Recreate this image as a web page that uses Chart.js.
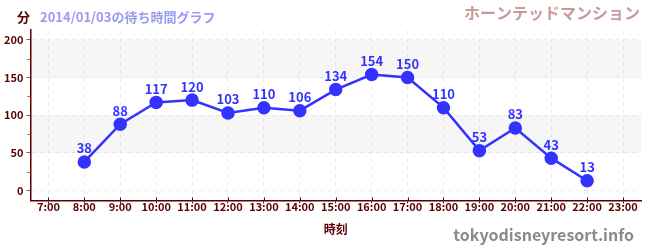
<!DOCTYPE html>
<html>
<head>
<meta charset="utf-8">
<script src="https://cdn.jsdelivr.net/npm/chart.js@4"></script>
<style>
  html, body { margin: 0; padding: 0; background: #fff; }
  #wrap { width: 650px; height: 250px; }
</style>
</head>
<body>
<div id="wrap"><canvas id="chart" width="650" height="250"></canvas></div>
<script>
// wait times (minutes) per hour of the day
const hours = [8, 9, 10, 11, 12, 13, 14, 15, 16, 17, 18, 19, 20, 21, 22];
const waits = [38, 88, 117, 120, 103, 110, 106, 134, 154, 150, 110, 53, 83, 43, 13];
const xTicks = [7, 8, 9, 10, 11, 12, 13, 14, 15, 16, 17, 18, 19, 20, 21, 22, 23];
const yTicks = [0, 50, 100, 150, 200];
const yMinor = [25, 75, 125, 175];

const FONT = '"Noto Sans CJK JP", "Noto Sans", sans-serif';
const AXIS = '#5a0000';
const BLUE = '#3333ff';

// alternating bands, minor ticks, value labels and header texts
const deco = {
  id: 'deco',
  beforeDatasetsDraw(chart) {
    const { ctx, chartArea: a, scales: { y } } = chart;
    ctx.save();
    ctx.fillStyle = 'rgba(0,0,0,0.035)';
    [[50, 100], [150, 200]].forEach(([lo, hi]) => {
      const t = y.getPixelForValue(hi), b = y.getPixelForValue(lo);
      ctx.fillRect(a.left, t, a.right - a.left, b - t);
    });
    ctx.restore();
  },
  afterDatasetsDraw(chart) {
    const { ctx, chartArea: a, scales: { x, y } } = chart;
    ctx.save();
    // minor ticks on the y axis
    ctx.strokeStyle = '#ff3333';
    ctx.lineWidth = 1;
    yMinor.forEach(v => {
      const py = Math.round(y.getPixelForValue(v)) + 0.5;
      ctx.beginPath();
      ctx.moveTo(a.left - 3, py);
      ctx.lineTo(a.left, py);
      ctx.stroke();
    });
    // x tick marks crossing the axis
    ctx.strokeStyle = '#222';
    xTicks.forEach(v => {
      const px = Math.round(x.getPixelForValue(v)) + 0.5;
      ctx.beginPath();
      ctx.moveTo(px, a.bottom - 3);
      ctx.lineTo(px, a.bottom);
      ctx.stroke();
    });
    // point labels
    ctx.fillStyle = BLUE;
    ctx.font = 'bold 13px ' + FONT;
    ctx.textAlign = 'center';
    ctx.textBaseline = 'bottom';
    hours.forEach((h, i) => {
      ctx.fillText(String(waits[i]), x.getPixelForValue(h), y.getPixelForValue(waits[i]) - 7);
    });
    // header
    ctx.textBaseline = 'middle';
    ctx.textAlign = 'left';
    ctx.font = 'bold 13px ' + FONT;
    ctx.fillStyle = AXIS;
    ctx.fillText('分', 17, 17);
    ctx.fillStyle = '#9a9af0';
    ctx.fillText('2014/01/03の待ち時間グラフ', 40, 17);
    ctx.textAlign = 'right';
    ctx.font = 'bold 16px ' + FONT;
    ctx.fillStyle = '#c99a9a';
    ctx.fillText('ホーンテッドマンション', 640, 13);
    ctx.font = 'bold 16px ' + FONT;
    ctx.fillStyle = '#8a8a8a';
    ctx.fillText('tokyodisneyresort.info', 634, 235);
    ctx.restore();
  }
};

new Chart(document.getElementById('chart'), {
  type: 'line',
  data: {
    datasets: [{
      data: hours.map((h, i) => ({ x: h, y: waits[i] })),
      borderColor: BLUE,
      backgroundColor: BLUE,
      borderWidth: 2.5,
      pointRadius: 5.5,
      pointHoverRadius: 5.5,
      tension: 0
    }]
  },
  options: {
    responsive: false,
    animation: false,
    devicePixelRatio: 1,
    layout: { padding: { top: 30, right: 9, left: 1, bottom: 13 } },
    plugins: { legend: { display: false }, tooltip: { enabled: false } },
    scales: {
      x: {
        type: 'linear',
        min: 6.5,
        max: 23.5,
        afterBuildTicks: s => { s.ticks = xTicks.map(v => ({ value: v })); },
        grid: { color: '#ececec', tickColor: '#222', tickLength: 3 },
        border: { color: AXIS, width: 1.5, dash: [4, 4] },
        ticks: {
          color: AXIS,
          font: { family: FONT, size: 11, weight: 'bold' },
          padding: -3,
          maxRotation: 0,
          autoSkip: false,
          callback: v => v + ':00'
        },
        title: {
          display: true,
          text: '時刻',
          color: AXIS,
          font: { family: FONT, size: 12, weight: 'bold' },
          padding: { top: 12, bottom: 0 }
        }
      },
      y: {
        min: -13,
        max: 213,
        afterBuildTicks: s => { s.ticks = yTicks.map(v => ({ value: v })); },
        grid: { color: '#ececec', tickColor: '#666', tickLength: 4 },
        border: { color: AXIS, width: 1.5, dash: [4, 4] },
        ticks: {
          color: AXIS,
          font: { family: FONT, size: 11, weight: 'bold' },
          padding: 3
        }
      }
    }
  },
  plugins: [deco]
});
</script>
</body>
</html>
